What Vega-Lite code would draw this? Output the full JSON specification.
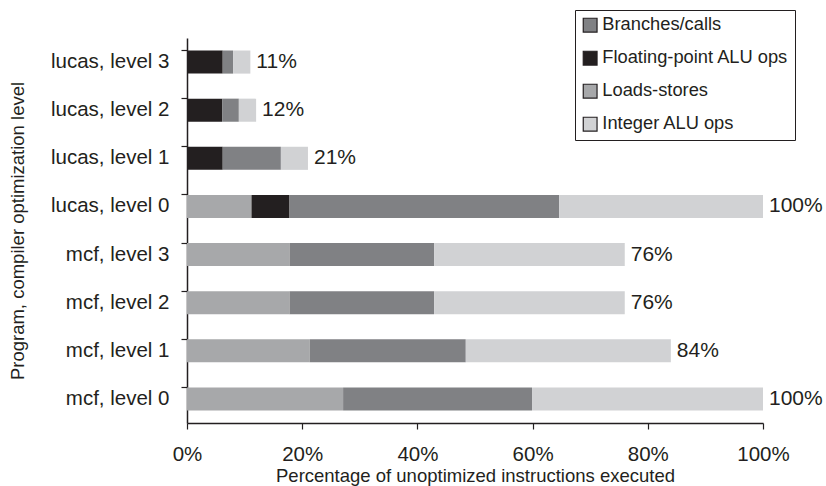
{
  "$schema": "https://vega.github.io/schema/vega-lite/v6.json",
  "autosize": {"type": "none"},
  "width": 576,
  "height": 385,
  "padding": {"left": 187, "top": 38, "right": 63, "bottom": 63},
  "background": "white",
  "config": {
    "font": "Liberation Sans",
    "view": {"stroke": null},
    "axis": {"labelColor": "#231f20", "titleColor": "#231f20", "domainColor": "#231f20", "tickColor": "#231f20", "grid": false, "labelFont": "Liberation Sans", "titleFont": "Liberation Sans", "titleFontWeight": "normal"}
  },
  "datasets": {
    "segs": [
      {"prog": "mcf, level 0", "type": "Loads-stores", "k": 1, "v": 27.1},
      {"prog": "mcf, level 0", "type": "Branches/calls", "k": 3, "v": 32.8},
      {"prog": "mcf, level 0", "type": "Integer ALU ops", "k": 4, "v": 40.1},
      {"prog": "mcf, level 1", "type": "Loads-stores", "k": 1, "v": 21.3},
      {"prog": "mcf, level 1", "type": "Branches/calls", "k": 3, "v": 27.1},
      {"prog": "mcf, level 1", "type": "Integer ALU ops", "k": 4, "v": 35.6},
      {"prog": "mcf, level 2", "type": "Loads-stores", "k": 1, "v": 17.8},
      {"prog": "mcf, level 2", "type": "Branches/calls", "k": 3, "v": 25.1},
      {"prog": "mcf, level 2", "type": "Integer ALU ops", "k": 4, "v": 33.1},
      {"prog": "mcf, level 3", "type": "Loads-stores", "k": 1, "v": 17.8},
      {"prog": "mcf, level 3", "type": "Branches/calls", "k": 3, "v": 25.1},
      {"prog": "mcf, level 3", "type": "Integer ALU ops", "k": 4, "v": 33.1},
      {"prog": "lucas, level 0", "type": "Loads-stores", "k": 1, "v": 11.2},
      {"prog": "lucas, level 0", "type": "Floating-point ALU ops", "k": 2, "v": 6.6},
      {"prog": "lucas, level 0", "type": "Branches/calls", "k": 3, "v": 46.8},
      {"prog": "lucas, level 0", "type": "Integer ALU ops", "k": 4, "v": 35.4},
      {"prog": "lucas, level 1", "type": "Floating-point ALU ops", "k": 2, "v": 6.2},
      {"prog": "lucas, level 1", "type": "Branches/calls", "k": 3, "v": 10.1},
      {"prog": "lucas, level 1", "type": "Integer ALU ops", "k": 4, "v": 4.7},
      {"prog": "lucas, level 2", "type": "Floating-point ALU ops", "k": 2, "v": 6.1},
      {"prog": "lucas, level 2", "type": "Branches/calls", "k": 3, "v": 2.9},
      {"prog": "lucas, level 2", "type": "Integer ALU ops", "k": 4, "v": 3.0},
      {"prog": "lucas, level 3", "type": "Floating-point ALU ops", "k": 2, "v": 6.2},
      {"prog": "lucas, level 3", "type": "Branches/calls", "k": 3, "v": 1.8},
      {"prog": "lucas, level 3", "type": "Integer ALU ops", "k": 4, "v": 3.0}
    ],
    "totals": [
      {"prog": "mcf, level 0", "total": 100, "label": "100%"},
      {"prog": "mcf, level 1", "total": 84, "label": "84%"},
      {"prog": "mcf, level 2", "total": 76, "label": "76%"},
      {"prog": "mcf, level 3", "total": 76, "label": "76%"},
      {"prog": "lucas, level 0", "total": 100, "label": "100%"},
      {"prog": "lucas, level 1", "total": 21, "label": "21%"},
      {"prog": "lucas, level 2", "total": 12, "label": "12%"},
      {"prog": "lucas, level 3", "total": 11, "label": "11%"}
    ]
  },
  "layer": [
    {
      "data": {"name": "segs"},
      "mark": {"type": "bar", "orient": "horizontal"},
      "encoding": {
        "y": {
          "field": "prog", "type": "nominal",
          "sort": ["lucas, level 3", "lucas, level 2", "lucas, level 1", "lucas, level 0", "mcf, level 3", "mcf, level 2", "mcf, level 1", "mcf, level 0"],
          "scale": {"paddingInner": 0.52, "paddingOuter": 0.26},
          "axis": {"title": "Program, compiler optimization level", "titleFontSize": 18.5, "labelFontSize": 20.5, "tickSize": 6, "bandPosition": 0, "labelPadding": 12, "titleX": -170, "titleY": 192.5, "titleBaseline": "middle", "titleAlign": "center", "titleAngle": 270, "domainWidth": 1.5, "tickWidth": 1.2}
        },
        "x": {
          "field": "v", "type": "quantitative", "stack": "zero",
          "scale": {"domain": [0, 100], "nice": false},
          "axis": {"title": "Percentage of unoptimized instructions executed", "values": [0, 20, 40, 60, 80, 100], "labelExpr": "datum.value + '%'", "labelFlush": false, "titleFontSize": 18.5, "labelFontSize": 20.5, "tickSize": 6, "labelPadding": 15, "titleY": 58, "titleBaseline": "alphabetic", "domainWidth": 1.5, "tickWidth": 1.2}
        },
        "color": {
          "field": "type", "type": "nominal",
          "scale": {"domain": ["Branches/calls", "Floating-point ALU ops", "Loads-stores", "Integer ALU ops"], "range": ["#808184", "#231f20", "#a7a8aa", "#d1d2d4"]},
          "legend": {
            "title": null, "orient": "none", "legendX": 388, "legendY": -28,
            "symbolType": "square", "symbolSize": 190, "symbolStrokeColor": "#231f20", "symbolStrokeWidth": 1.2,
            "labelFontSize": 18.3, "labelColor": "#231f20", "labelFont": "Liberation Sans", "labelLimit": 400,
            "rowPadding": 13, "padding": 6, "strokeColor": "#231f20", "labelOffset": 3
          }
        },
        "order": {"field": "k", "type": "quantitative"}
      }
    },
    {
      "data": {"name": "totals"},
      "mark": {"type": "text", "align": "left", "baseline": "middle", "dx": 6, "fontSize": 21, "color": "#231f20", "font": "Liberation Sans"},
      "encoding": {
        "y": {"field": "prog", "type": "nominal", "sort": ["lucas, level 3", "lucas, level 2", "lucas, level 1", "lucas, level 0", "mcf, level 3", "mcf, level 2", "mcf, level 1", "mcf, level 0"]},
        "x": {"field": "total", "type": "quantitative"},
        "text": {"field": "label"}
      }
    }
  ]
}
